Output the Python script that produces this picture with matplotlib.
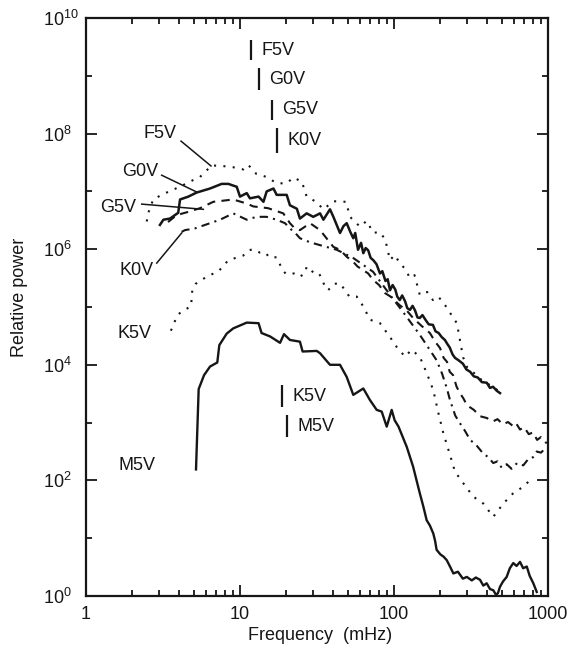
import numpy as np
import matplotlib
matplotlib.use("Agg")
import matplotlib.pyplot as plt
from matplotlib.ticker import FixedLocator, NullFormatter

plt.rcParams['font.family'] = ['Liberation Sans', 'DejaVu Sans']
plt.rcParams['mathtext.default'] = 'regular'

# ---------------- data (frequency in mHz, log10 of relative power) ----------------
f5v_freq = [2.48, 2.54, 2.73, 3.10, 3.60, 4.08, 4.73, 5.50, 6.55, 7.42, 8.61, 10.5, 11.3,
            12.8, 14.9, 17.3, 20.1, 22.2, 25.2, 27.1, 31.2, 34.8, 40.4, 48.8, 51.8, 60.1,
            66.5, 73.4, 80.0, 87.5, 94.2, 101, 109, 118, 127, 136, 147, 164, 179, 193, 208,
            231, 256, 268, 281, 298, 320, 341, 370, 396, 425, 453, 496]
f5v_logp = [6.48, 6.63, 6.86, 6.94, 7.02, 7.08, 7.17, 7.25, 7.45, 7.44, 7.43, 7.38, 7.46,
            7.30, 7.25, 7.14, 7.14, 7.24, 7.17, 6.91, 6.82, 6.69, 6.83, 6.82, 6.56, 6.39,
            6.49, 6.28, 6.30, 6.18, 5.81, 5.90, 5.76, 5.66, 5.50, 5.55, 5.21, 5.26, 5.12,
            5.18, 5.09, 4.90, 4.72, 4.43, 4.13, 3.96, 3.90, 3.82, 3.74, 3.69, 3.64, 3.60, 3.49]

g0v_freq = [3.02, 3.18, 3.51, 3.78, 3.97, 4.08, 4.62, 5.23, 6.39, 7.60, 8.40, 9.52, 10.0,
            11.06, 11.6, 13.2, 14.2, 14.9, 16.5, 17.3, 20.1, 21.1, 23.4, 24.5, 27.1, 29.9,
            33.1, 34.8, 38.4, 40.4, 44.6, 47.0, 49.3, 52.0, 54.4, 56.0, 58.4, 61.1, 63.2,
            65.5, 68.0, 70.5, 73.4, 77.0, 81.1, 84.0, 88.0, 91.0, 94.2, 98.0, 102, 105, 109,
            113, 118, 122, 127, 132, 137, 142, 147, 153, 160, 168, 179, 186, 195, 204, 214,
            222, 230, 240, 249, 262, 280, 295, 312, 330, 350, 372, 400, 420, 440, 465, 488]
g0v_logp = [6.42, 6.51, 6.53, 6.59, 6.63, 6.86, 6.91, 6.98, 7.05, 7.13, 7.13, 7.08, 6.91,
            6.97, 6.88, 6.91, 6.82, 7.00, 7.05, 6.94, 6.94, 6.76, 6.70, 6.53, 6.62, 6.56,
            6.62, 6.51, 6.69, 6.56, 6.28, 6.40, 6.45, 6.30, 6.19, 6.28, 5.99, 6.11, 5.93,
            6.02, 5.98, 5.85, 5.81, 5.74, 5.58, 5.62, 5.45, 5.48, 5.29, 5.38, 5.30, 5.18, 5.12,
            5.20, 5.10, 4.98, 4.95, 5.02, 4.94, 4.82, 4.81, 4.86, 4.78, 4.70, 4.69, 4.58, 4.55,
            4.48, 4.43, 4.36, 4.30, 4.18, 4.12, 4.08, 4.02, 3.92, 3.88, 3.80, 3.78, 3.70, 3.69,
            3.60, 3.62, 3.55, 3.51]

g5v_freq = [3.41, 3.88, 4.53, 5.50, 6.71, 9.04, 11.06, 12.2, 15.2, 19.1, 21.1, 22.7, 24.5,
            28.5, 33.1, 40.4, 44.6, 49.3, 54.4, 58.0, 62.9, 68.0, 73.1, 80.0, 87.5, 95.0,
            109, 120, 133, 150, 171, 185, 199, 210, 221, 230, 242, 255, 268, 282, 298, 330,
            362, 400, 439, 470, 510, 550, 593, 620, 658, 700, 750, 799, 850, 900, 981]
g5v_logp = [6.47, 6.59, 6.64, 6.71, 6.82, 6.86, 6.79, 6.74, 6.71, 6.62, 6.45, 6.36, 6.33,
            6.45, 6.33, 6.04, 5.99, 5.87, 5.78, 5.70, 5.64, 5.58, 5.47, 5.38, 5.24, 5.18,
            5.03, 4.95, 4.81, 4.68, 4.55, 4.40, 4.29, 4.12, 4.05, 3.88, 3.82, 3.62, 3.51,
            3.42, 3.30, 3.22, 3.11, 3.08, 3.02, 3.06, 2.97, 3.01, 2.94, 2.99, 2.88, 2.92,
            2.80, 2.83, 2.70, 2.75, 2.64]

k0v_freq = [4.18, 4.39, 5.10, 6.39, 7.42, 9.04, 11.06, 12.8, 14.9, 17.3, 19.6, 21.1, 23.4,
            24.5, 28.5, 33.1, 42.5, 54.2, 73.1, 94.2, 114, 147, 189, 205, 220, 231, 250, 268,
            290, 312, 340, 378, 410, 441, 470, 500, 539, 580, 630, 691, 750, 800, 845, 900, 981]
k0v_logp = [6.30, 6.33, 6.36, 6.45, 6.51, 6.62, 6.51, 6.56, 6.56, 6.51, 6.45, 6.36, 6.25,
            6.19, 6.12, 6.07, 5.99, 5.85, 5.61, 5.21, 4.92, 4.52, 4.08, 3.85, 3.60, 3.39,
            3.12, 2.99, 2.85, 2.70, 2.62, 2.47, 2.40, 2.30, 2.33, 2.22, 2.28, 2.20, 2.30,
            2.26, 2.38, 2.40, 2.50, 2.48, 2.58]

k5v_freq = [3.56, 3.73, 3.92, 4.28, 4.81, 4.90, 5.15, 5.72, 6.32, 7.09, 7.72, 8.32, 9.37,
            10.5, 11.15, 12.1, 13.5, 14.7, 15.4, 17.3, 18.0, 18.9, 19.9, 22.4, 24.3, 26.4,
            27.1, 29.9, 32.2, 33.9, 35.6, 37.4, 40.4, 44.6, 48.1, 51.3, 57.3, 63.2, 69.8,
            81.1, 94.2, 104, 118, 130, 147, 163, 180, 194, 209, 231, 249, 282, 327, 380,
            441, 513, 595, 691, 803]
k5v_logp = [4.59, 4.72, 4.86, 4.94, 5.01, 5.29, 5.40, 5.48, 5.55, 5.60, 5.69, 5.80, 5.85,
            5.89, 5.97, 6.00, 5.94, 5.94, 5.86, 5.86, 5.76, 5.64, 5.57, 5.58, 5.52, 5.58,
            5.70, 5.60, 5.60, 5.50, 5.35, 5.29, 5.40, 5.41, 5.29, 5.18, 5.18, 5.01, 4.78,
            4.72, 4.48, 4.31, 4.14, 4.26, 4.14, 3.86, 3.56, 3.17, 2.82, 2.44, 2.15, 1.95,
            1.72, 1.60, 1.37, 1.60, 1.78, 1.89, 2.06]

m5v_freq = [5.18, 5.39, 5.84, 6.39, 7.12, 7.34, 8.20, 9.04, 11.06, 13.2, 13.8, 15.7, 18.2,
            19.3, 21.1, 24.5, 25.5, 31.5, 33.1, 38.4, 44.6, 49.3, 54.4, 63.2, 69.8, 77.2,
            83.2, 89.7, 96.6, 101, 107, 121, 133, 147, 155, 163, 171, 180, 185, 189, 200,
            210, 220, 232, 243, 260, 280, 297, 320, 340, 362, 380, 400, 420, 441, 460, 473,
            488, 510, 539, 565, 595, 625, 658, 690, 728, 760, 803, 845]
m5v_logp = [2.19, 3.58, 3.82, 3.97, 4.04, 4.34, 4.54, 4.63, 4.73, 4.72, 4.55, 4.49, 4.38,
            4.53, 4.43, 4.40, 4.23, 4.24, 4.20, 4.00, 4.00, 3.79, 3.48, 3.59, 3.39, 3.22,
            3.19, 2.93, 3.22, 3.04, 2.93, 2.58, 2.24, 1.78, 1.55, 1.31, 1.22, 1.08, 0.95,
            0.80, 0.72, 0.68, 0.62, 0.50, 0.39, 0.42, 0.30, 0.33, 0.27, 0.32, 0.28, 0.18,
            0.22, 0.12, 0.10, 0.02, 0.05, 0.16, 0.25, 0.33, 0.48, 0.57, 0.52, 0.59, 0.48,
            0.51, 0.35, 0.22, 0.07]

# spectral-type markers near the top / middle: (label, freq, log10 bottom, log10 top)
marker_labels = ['F5V', 'G0V', 'G5V', 'K0V', 'K5V', 'M5V']
marker_freq = [11.7, 13.3, 16.1, 17.3, 18.7, 20.3]
marker_lo = [9.27, 8.75, 8.24, 7.66, 3.27, 2.75]
marker_hi = [9.62, 9.13, 8.58, 8.10, 3.65, 3.13]

x_ticks = [1, 10, 100, 1000]
y_major_exp = [0, 2, 4, 6, 8, 10]
y_minor_exp = [1, 3, 5, 7, 9]

# ---------------- figure ----------------
fig = plt.figure(figsize=(5.71, 6.48), dpi=100)
ax = fig.add_axes([86 / 571, 52 / 648, 462 / 571, 578 / 648])
ax.set_xscale('log')
ax.set_yscale('log')

ink = '#161616'

def P(a):
    return 10 ** np.asarray(a, dtype=float)

ax.plot(f5v_freq, P(f5v_logp), color=ink, lw=1.5, ls=(0, (1, 3.5)))
ax.plot(g0v_freq, P(g0v_logp), color=ink, lw=1.8, ls='-')
ax.plot(g5v_freq, P(g5v_logp), color=ink, lw=1.5, ls=(0, (4, 3)))
ax.plot(k0v_freq, P(k0v_logp), color=ink, lw=1.5, ls=(0, (4, 2.5, 1, 2.5)))
ax.plot(k5v_freq, P(k5v_logp), color=ink, lw=1.5, ls=(0, (1, 3.5)))
ax.plot(m5v_freq, P(m5v_logp), color=ink, lw=1.7, ls='-')

ax.set_xlim(1, 1000)
ax.set_ylim(1, 1e10)

# marker bars + labels
for lab, f, lo, hi in zip(marker_labels, marker_freq, marker_lo, marker_hi):
    ax.plot([f, f], [10 ** lo, 10 ** hi], color=ink, lw=1.6, solid_capstyle='butt')
    ax.text(f * 1.17, 10 ** ((lo + hi) / 2), lab, fontsize=13, ha='left', va='center', color=ink)

# left-side curve labels with pointer lines
left_lab = [('F5V', 3.02, 8.01, (4.14, 7.87), (6.48, 7.44)),
            ('G0V', 2.24, 7.35, (3.10, 7.28), (5.23, 6.99)),
            ('G5V', 1.61, 6.73, (2.30, 6.78), (5.78, 6.69)),
            ('K0V', 2.14, 5.64, (2.88, 5.76), (4.18, 6.28)),
            ('K5V', 2.08, 4.55, None, None),
            ('M5V', 2.14, 2.25, None, None)]
for lab, fx, ly, p0, p1 in left_lab:
    ax.text(fx, 10 ** ly, lab, fontsize=13, ha='center', va='center', color=ink)
    if p0 is not None:
        ax.plot([p0[0], p1[0]], [10 ** p0[1], 10 ** p1[1]], color=ink, lw=1.1)

# ticks
ax.xaxis.set_major_locator(FixedLocator(x_ticks))
ax.xaxis.set_minor_locator(FixedLocator([m * 10 ** e for e in range(0, 3) for m in range(2, 10)]))
ax.xaxis.set_minor_formatter(NullFormatter())
ax.set_xticklabels([str(v) for v in x_ticks])
ax.yaxis.set_major_locator(FixedLocator([10.0 ** e for e in y_major_exp]))
ax.yaxis.set_minor_locator(FixedLocator([10.0 ** e for e in y_minor_exp]))
ax.yaxis.set_minor_formatter(NullFormatter())
ax.set_yticklabels([r'$10^{%d}$' % e for e in y_major_exp])

ax.tick_params(which='both', direction='in', top=True, right=True, width=1.3, colors=ink)
ax.tick_params(which='major', length=8)
ax.tick_params(which='minor', length=4.5)
ax.tick_params(axis='x', which='major', pad=7, labelsize=13)
ax.tick_params(axis='y', which='major', pad=31, labelsize=13)
for lbl in ax.get_yticklabels():
    lbl.set_horizontalalignment('left')

for s in ax.spines.values():
    s.set_linewidth(1.6)
    s.set_color(ink)

fig.text(20 / 571, 1 - 297 / 648, 'Relative power', rotation=90, ha='center', va='center',
         fontsize=13, color=ink)
fig.text(320 / 571, 1 - 635 / 648, 'Frequency  (mHz)', ha='center', va='center',
         fontsize=13, color=ink)

fig.savefig('out.png', dpi=100)
